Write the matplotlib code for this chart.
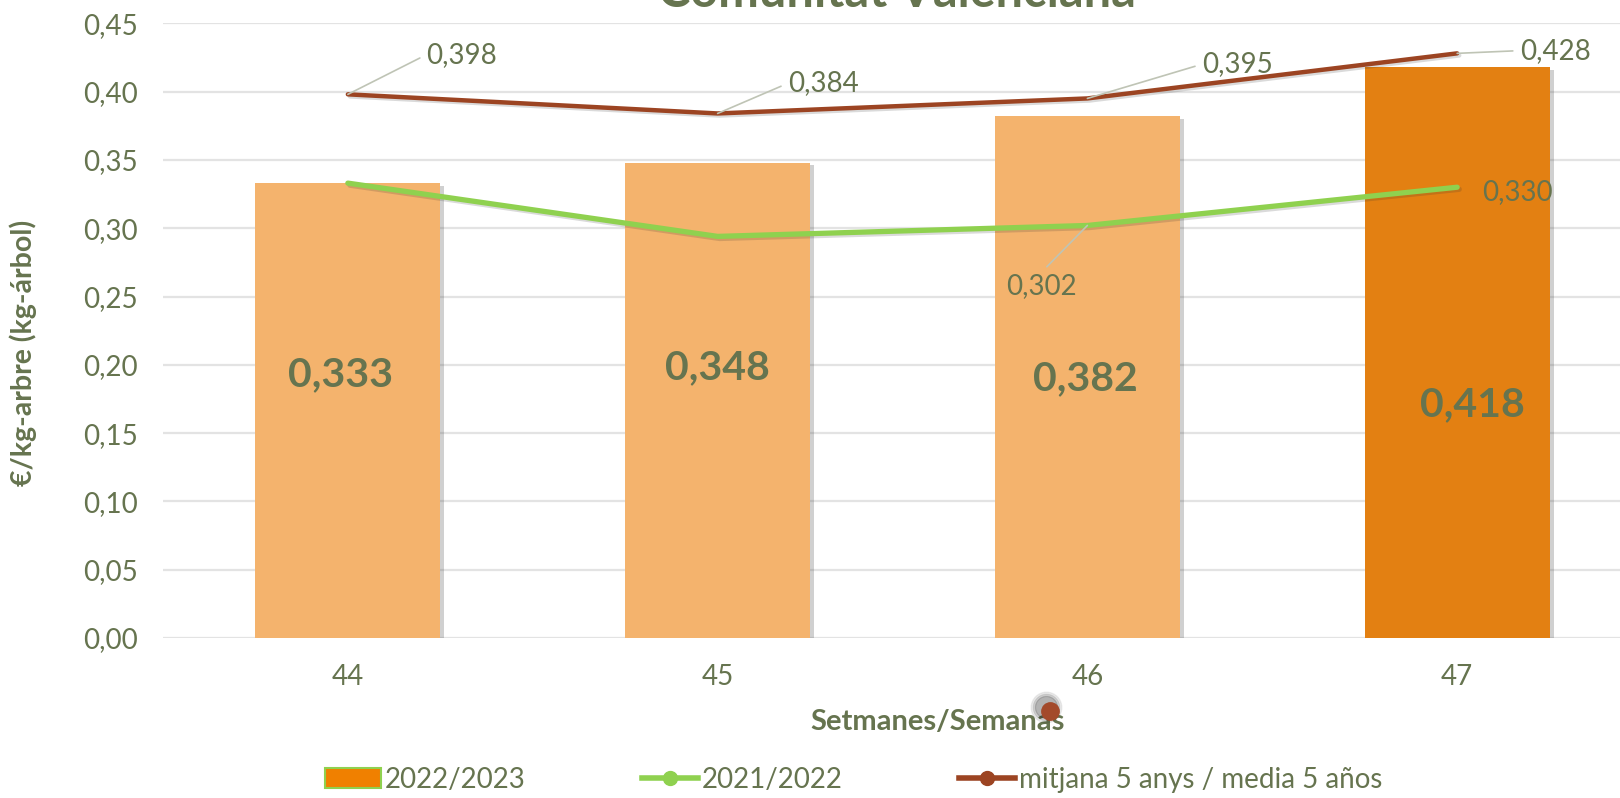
import numpy as np
import matplotlib
matplotlib.use("Agg")
import matplotlib.pyplot as plt
import matplotlib.patheffects as pe
from matplotlib.lines import Line2D
from matplotlib.patches import Patch
from matplotlib.ticker import FuncFormatter

plt.rcParams['font.family'] = ['Lato', 'DejaVu Sans']

# data
semanas = ['44', '45', '46', '47']
precio_2223 = [0.333, 0.348, 0.382, 0.418]
precio_2122 = [0.333, 0.294, 0.302, 0.330]
media_5 = [0.398, 0.384, 0.395, 0.428]

txt = '#66744F'
c_claro = '#F4B36D'
c_fuerte = '#E38012'
c_verde = '#8FD14F'
c_marron = '#9C4422'

def coma(v, nd=3):
    return f"{v:.{nd}f}".replace('.', ',')

fig = plt.figure(figsize=(16.2, 7.98), dpi=100)
ax = fig.add_axes([0.1006, 0.2005, 0.913, 0.7703])

x = np.arange(len(semanas))
colores = [c_claro, c_claro, c_claro, c_fuerte]
sombra = [pe.SimplePatchShadow(offset=(3, -2), alpha=0.25, shadow_rgbFace='#444444'), pe.Normal()]
barras = ax.bar(x, precio_2223, width=0.5, color=colores, zorder=2)
for b in barras:
    b.set_path_effects(sombra)

lsombra = [pe.SimpleLineShadow(offset=(1.5, -1.5), alpha=0.18, shadow_color='#333333'), pe.Normal()]
ax.plot(x, precio_2122, color=c_verde, lw=3.8, solid_capstyle='round', zorder=3, path_effects=lsombra)
ax.plot(x, media_5, color=c_marron, lw=3.2, solid_capstyle='round', zorder=3, path_effects=lsombra)

# etiquetas de las barras (movidas a mano en el original)
pos_barras = [(-0.02, 0.193), (0.0, 0.198), (-0.005, 0.190), (0.04, 0.171)]
for i, v in enumerate(precio_2223):
    dx, yy = pos_barras[i]
    ax.text(i + dx, yy, coma(v), ha='center', va='center', fontsize=29.5,
            fontweight='bold', color=txt, zorder=4)

# etiquetas de la media
pos_media = [(0.308, 0.427), (1.285, 0.406), (2.405, 0.420), (3.265, 0.430)]
for i, v in enumerate(media_5):
    ax.annotate(coma(v), xy=(i, v), xytext=pos_media[i], ha='center', va='center',
                fontsize=20, color=txt, zorder=4,
                arrowprops=dict(arrowstyle='-', color='#BFC4B5', lw=1.2,
                                relpos=(0, 0.5), shrinkA=3, shrinkB=0))

# etiquetas 2021/2022
ax.annotate(coma(precio_2122[2]), xy=(2, precio_2122[2]), xytext=(1.875, 0.258),
            ha='center', va='center', fontsize=20, color=txt, zorder=4,
            arrowprops=dict(arrowstyle='-', color='#BFC4B5', lw=1.2,
                            relpos=(0.5, 1), shrinkA=3, shrinkB=0))
ax.text(3.162, 0.3265, coma(precio_2122[3]), ha='center', va='center',
        fontsize=20, color=txt, zorder=4)

ax.set_xlim(-0.5, 3.5)
ax.set_ylim(0, 0.45)
ax.set_yticks(np.arange(0, 0.451, 0.05))
ax.yaxis.set_major_formatter(FuncFormatter(lambda v, p: coma(v, 2)))
ax.set_xticks(x)
ax.set_xticklabels(semanas)
ax.tick_params(axis='both', length=0, labelsize=20, colors=txt)
ax.tick_params(axis='y', pad=18)
ax.tick_params(axis='x', pad=19)
ax.grid(axis='y', color='#E3E3E3', lw=1.6, zorder=0)
ax.set_axisbelow(True)
for s in ax.spines.values():
    s.set_visible(False)

fig.text(897 / 1620, 1 - 7 / 798, 'Comunitat Valenciana', ha='center', va='baseline',
         fontsize=35, fontweight='bold', color=txt)
fig.text(938 / 1620, 1 - 722 / 798, 'Setmanes/Semanas', ha='center', va='center',
         fontsize=21, fontweight='bold', color=txt)
fig.text(23 / 1620, 1 - 353 / 798, '€/kg-arbre (kg-árbol)', ha='center', va='center',
         rotation=90, fontsize=20.5, fontweight='bold', color=txt)

# punto suelto junto al titulo del eje, con sombra difusa
px, py = 1050 / 1620, 1 - 711 / 798
for s, a in [(22, 0.08), (19, 0.12), (16, 0.18)]:
    fig.add_artist(Line2D([px - 4 / 1620], [py + 4 / 798], marker='o', markersize=s,
                          color='#222222', alpha=a, lw=0, zorder=5,
                          transform=fig.transFigure))
fig.add_artist(Line2D([px], [py], marker='o', markersize=12.5, color='#A34A2B', lw=0,
                      zorder=6, transform=fig.transFigure))

handles = [
    Patch(facecolor='#F08000', edgecolor=c_verde, lw=1.5),
    Line2D([], [], color=c_verde, lw=4, marker='o', markersize=10),
    Line2D([], [], color=c_marron, lw=4, marker='o', markersize=10),
]
etiquetas = ['2022/2023', '2021/2022', 'mitjana 5 anys / media 5 años']
leg = fig.legend(handles, etiquetas, loc='center', bbox_to_anchor=(0.527, 0.023), ncol=3,
                 frameon=False, fontsize=20, handlelength=2.0, handletextpad=0.15,
                 columnspacing=4.2)
for t in leg.get_texts():
    t.set_color(txt)

fig.savefig('out.png', dpi=100)
